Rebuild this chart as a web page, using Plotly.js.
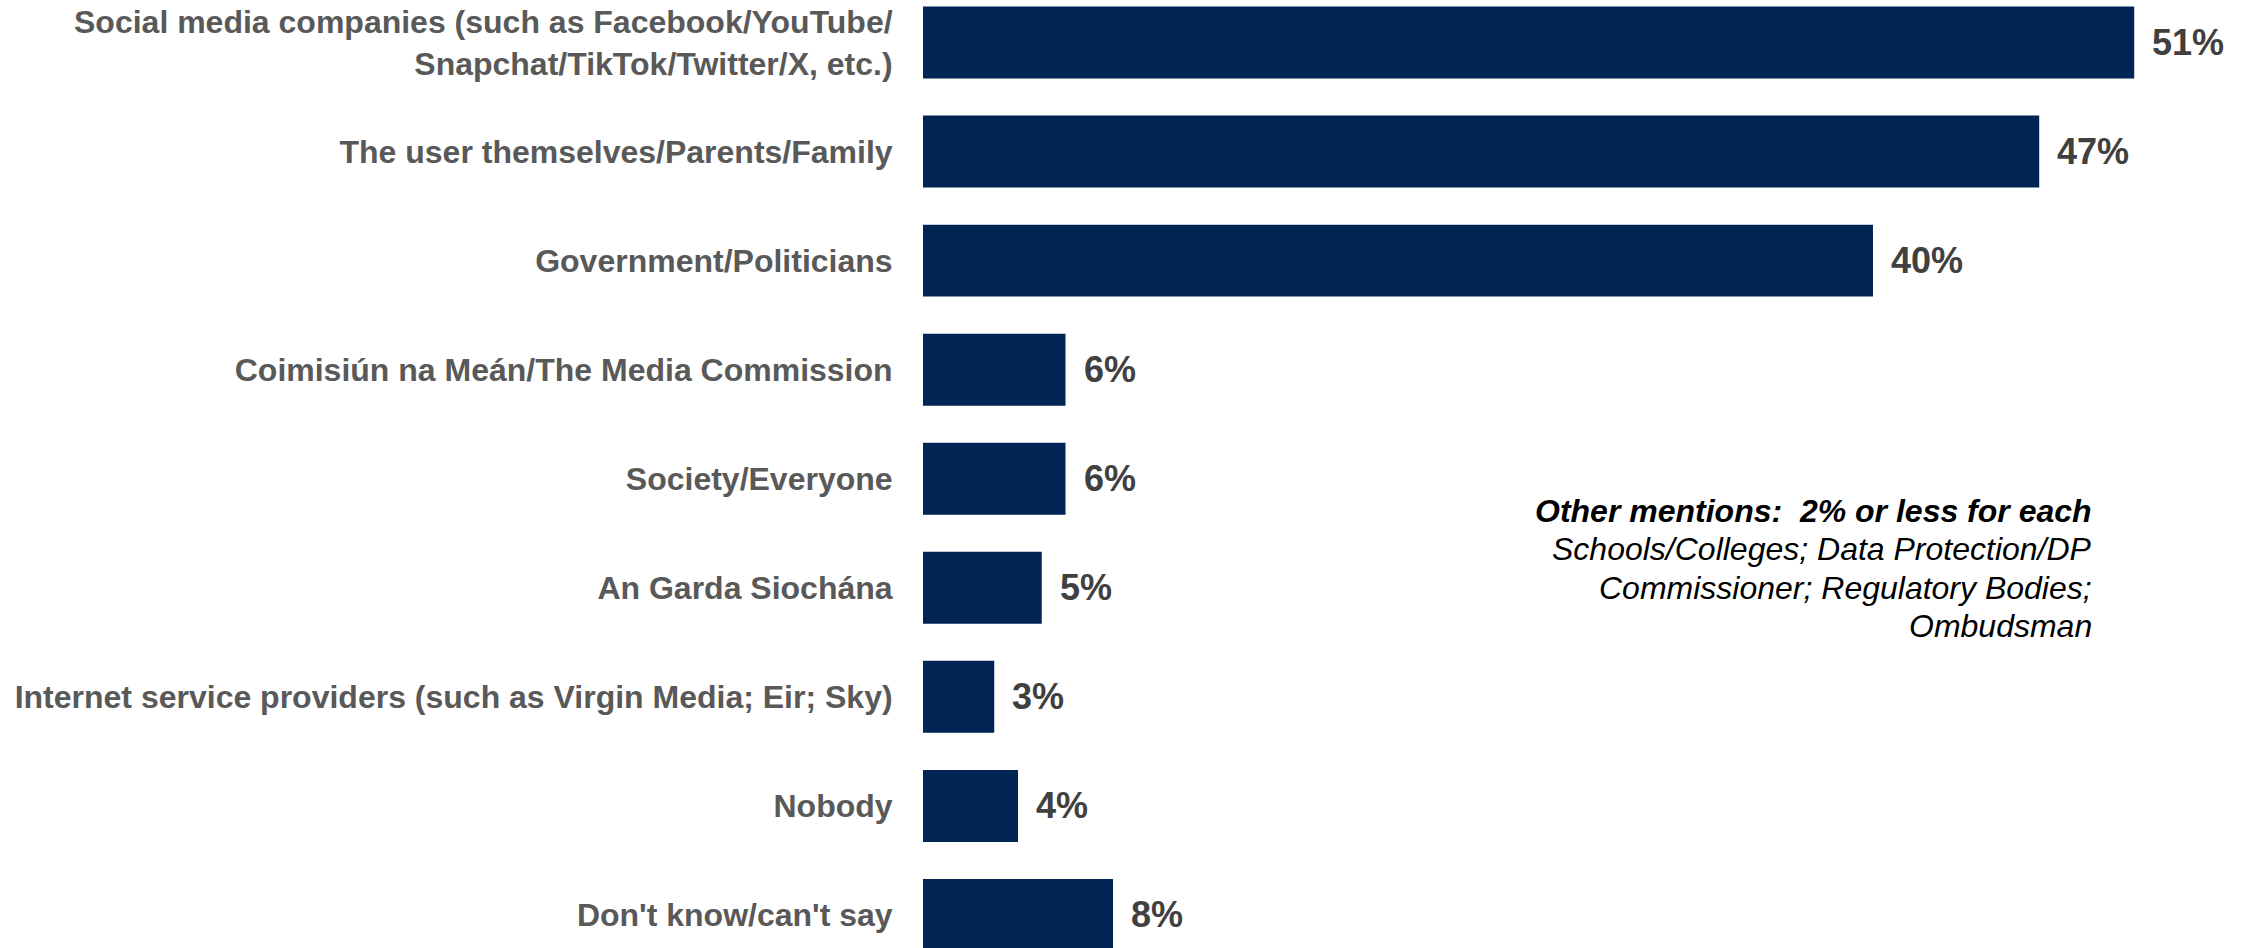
<!DOCTYPE html>
<html>
<head>
<meta charset="utf-8">
<script src="https://cdn.plot.ly/plotly-3.0.1.min.js"></script>
<style>
html,body{margin:0;padding:0;background:#fff;}
#chart{width:2257px;height:948px;}
</style>
</head>
<body>
<div id="chart"></div>
<script>
const categories = [
  "Social media companies (such as Facebook/YouTube/<br>Snapchat/TikTok/Twitter/X, etc.)",
  "The user themselves/Parents/Family",
  "Government/Politicians",
  "Coimisiún na Meán/The Media Commission",
  "Society/Everyone",
  "An Garda Siochána",
  "Internet service providers (such as Virgin Media; Eir; Sky)",
  "Nobody",
  "Don't know/can't say"
];
const values = [51, 47, 40, 6, 6, 5, 3, 4, 8];
const valueLabels = values.map(v => v + "%");
const noteTitle = "Other mentions:\u00a0 2% or less for each";
const noteLines = ["Schools/Colleges; Data Protection/DP", "Commissioner; Regulatory Bodies;", "Ombudsman"];

const trace = {
  type: "bar",
  orientation: "h",
  y: categories,
  x: values,
  marker: {color: "#002454"},
  width: 0.66,
  hoverinfo: "none"
};

const valueAnnotations = values.map((v, i) => ({
  x: v, y: categories[i], xref: "x", yref: "y",
  text: "<b>" + valueLabels[i] + "</b>",
  showarrow: false, xanchor: "left", yanchor: "middle", xshift: 16,
  font: {family: "Liberation Sans, Arial, sans-serif", size: 36, color: "#404040"}
}));

const noteFont = {family: "Liberation Sans, Arial, sans-serif", size: 32, color: "#000000"};
const noteTexts = ["<b><i>" + noteTitle + "</i></b>"].concat(noteLines.map(s => "<i>" + s + "</i>"));
const noteAnnotations = noteTexts.map((t, i) => ({
  xref: "paper", yref: "paper", x: 0.878, y: 1 - 511 / 948,
  yshift: -i * 38.4,
  xanchor: "right", yanchor: "middle", align: "right", showarrow: false,
  text: t, font: noteFont
}));

const layout = {
  width: 2257, height: 948,
  margin: {l: 923, r: 0, t: 0, b: 0, pad: 0},
  paper_bgcolor: "#ffffff", plot_bgcolor: "#ffffff",
  showlegend: false,
  xaxis: {range: [0, 56.17], visible: false, showgrid: false, zeroline: false},
  yaxis: {
    type: "category",
    range: [8.303, -0.39],
    showgrid: false, zeroline: false, showline: false,
    ticks: "outside", ticklen: 0, ticklabelstandoff: 23,
    tickfont: {family: "Liberation Sans, Arial, sans-serif", size: 32, color: "#595959", weight: "bold"}
  },
  annotations: valueAnnotations.concat(noteAnnotations)
};

Plotly.newPlot("chart", [trace], layout, {displayModeBar: false, staticPlot: true});
</script>
</body>
</html>
